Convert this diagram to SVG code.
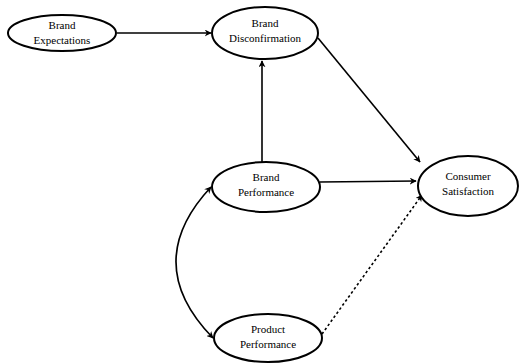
<svg xmlns="http://www.w3.org/2000/svg" width="519" height="364" viewBox="0 0 519 364">
<style>
.n{fill:#fff;stroke:#000;stroke-width:2}
.t{font-family:"Liberation Serif",serif;font-size:11px;text-anchor:middle;fill:#000}
.c{fill:none;stroke:#000;stroke-width:1.6}
.d{stroke-dasharray:2.5 2.5}
</style>
<defs>
<marker id="a" viewBox="0 0 10 10" refX="9" refY="5" markerWidth="7" markerHeight="7" orient="auto-start-reverse" markerUnits="userSpaceOnUse">
<path d="M0,0 L10,5 L0,10 L3,5 Z" fill="#000"/>
</marker>
</defs>
<rect width="519" height="364" fill="#fff"/>
<g id="connectors">
<path class="c" d="M117,33 L211,33" marker-end="url(#a)"/>
<path class="c" d="M262,162 L262,61" marker-end="url(#a)"/>
<path class="c" d="M318,38 L420,162" marker-end="url(#a)"/>
<path class="c" d="M320,182 L416,181" marker-end="url(#a)"/>
<path class="c d" d="M322,334 L422,195" marker-end="url(#a)"/>
<path class="c" d="M211,187 Q140,263 213,338" marker-start="url(#a)" marker-end="url(#a)"/>
</g>
<g id="brand-expectations">
<ellipse class="n" cx="62" cy="33" rx="54" ry="18"/>
<text class="t" x="62" y="29">Brand</text>
<text class="t" x="62" y="44">Expectations</text>
</g>
<g id="brand-disconfirmation">
<ellipse class="n" cx="265" cy="33" rx="53" ry="26"/>
<text class="t" x="265" y="27">Brand</text>
<text class="t" x="265" y="42">Disconfirmation</text>
</g>
<g id="brand-performance">
<ellipse class="n" cx="266" cy="187" rx="54" ry="25"/>
<text class="t" x="266" y="181">Brand</text>
<text class="t" x="266" y="196">Performance</text>
</g>
<g id="consumer-satisfaction">
<ellipse class="n" cx="468" cy="186" rx="50" ry="30"/>
<text class="t" x="468" y="180">Consumer</text>
<text class="t" x="468" y="195">Satisfaction</text>
</g>
<g id="product-performance">
<ellipse class="n" cx="268" cy="338" rx="54" ry="24"/>
<text class="t" x="268" y="333">Product</text>
<text class="t" x="268" y="348">Performance</text>
</g>
</svg>
